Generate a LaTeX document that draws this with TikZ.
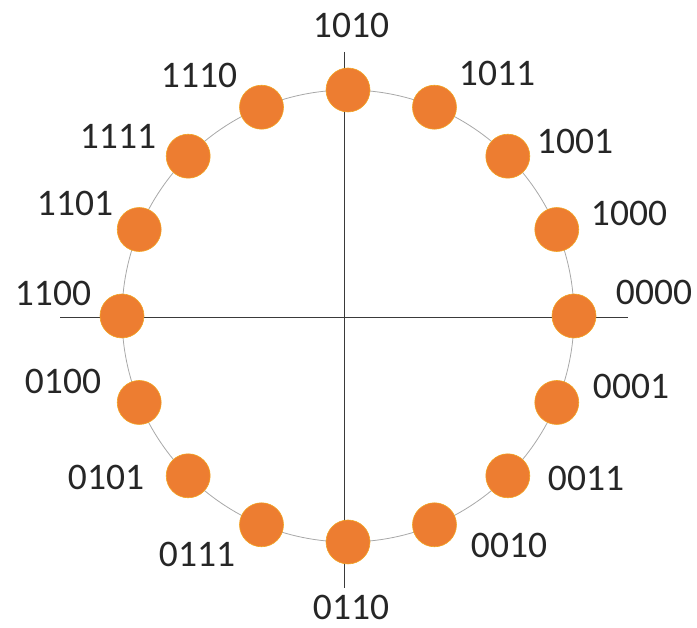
\documentclass[tikz,border=0pt]{standalone}
\usepackage{fontspec}
\setmainfont{Carlito}
\usetikzlibrary{calc}
\definecolor{dotorange}{HTML}{ED7D31}
\definecolor{ringgray}{HTML}{A8A8A8}
\definecolor{axisgray}{HTML}{3A3A3A}
\tikzset{
  dot/.style={circle, fill=dotorange, draw=dotorange!70!yellow, line width=0.6pt, minimum size=44pt, inner sep=0pt},
  lbl/.style={text=black!85, font=\fontsize{37.5}{40}\selectfont, inner sep=0pt},
  ring/.style={draw=ringgray, line width=0.8pt},
  axis/.style={draw=axisgray, line width=1pt}
}
\begin{document}
\begin{tikzpicture}[x=1pt,y=1pt]
\useasboundingbox (0,0) rectangle (697,628);
% axes
\coordinate (hl) at (60,310);
\coordinate (hr) at (628,310);
\coordinate (vt) at (344,576);
\coordinate (vb) at (344,40);
\draw[axis] (hl) -- (hr);
\draw[axis] (vt) -- (vb);
% ring
\coordinate (c) at (348,312);
\draw[ring] (c) circle[radius=226];
% dots
\foreach \a/\n in {90/d1010,67.5/d1011,45/d1001,22.5/d1000,0/d0000,-22.5/d0001,-45/d0011,-67.5/d0010,-90/d0110,-112.5/d0111,-135/d0101,-157.5/d0100,180/d1100,157.5/d1101,135/d1111,112.5/d1110}
  \node[dot] (\n) at ($(c)+(\a:226)$) {};
% labels
\node[lbl] (t1010) at (351,603) {1010};
\node[lbl] (t1011) at (497,555) {1011};
\node[lbl] (t1001) at (575,487) {1001};
\node[lbl] (t1000) at (629,415) {1000};
\node[lbl] (t0000) at (654,336) {0000};
\node[lbl] (t0001) at (631,242) {0001};
\node[lbl] (t0011) at (586,150) {0011};
\node[lbl] (t0010) at (509,83) {0010};
\node[lbl] (t0110) at (351,21) {0110};
\node[lbl] (t0111) at (197,74) {0111};
\node[lbl] (t0101) at (106,151) {0101};
\node[lbl] (t0100) at (63,247) {0100};
\node[lbl] (t1100) at (53,335) {1100};
\node[lbl] (t1101) at (75,425) {1101};
\node[lbl] (t1111) at (118,492) {1111};
\node[lbl] (t1110) at (199,553) {1110};
\end{tikzpicture}
\end{document}
